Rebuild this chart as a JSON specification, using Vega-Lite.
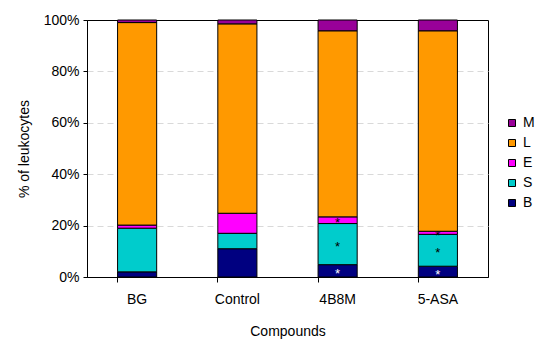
{
  "$schema": "https://vega.github.io/schema/vega-lite/v6.json",
  "width": 401,
  "height": 257,
  "autosize": {"type": "none"},
  "padding": {"left": 87, "top": 20, "right": 62, "bottom": 77},
  "background": "white",
  "config": {
    "font": "Liberation Sans",
    "view": {"stroke": "black", "strokeWidth": 1},
    "axis": {"labelFont": "Liberation Sans", "titleFont": "Liberation Sans", "labelFontSize": 14, "titleFontSize": 14, "titleFontWeight": "normal", "labelColor": "black", "titleColor": "black", "domainColor": "black", "tickColor": "black"},
    "legend": {"labelFont": "Liberation Sans", "labelFontSize": 14, "labelColor": "black"}
  },
  "data": {
    "values": [
      {"compound": "BG", "cell": "B", "value": 2, "sig": "", "order": 1},
      {"compound": "BG", "cell": "S", "value": 17, "sig": "", "order": 2},
      {"compound": "BG", "cell": "E", "value": 1.2, "sig": "", "order": 3},
      {"compound": "BG", "cell": "L", "value": 78.8, "sig": "", "order": 4},
      {"compound": "BG", "cell": "M", "value": 1, "sig": "", "order": 5},
      {"compound": "Control", "cell": "B", "value": 11, "sig": "", "order": 1},
      {"compound": "Control", "cell": "S", "value": 6, "sig": "", "order": 2},
      {"compound": "Control", "cell": "E", "value": 7.8, "sig": "", "order": 3},
      {"compound": "Control", "cell": "L", "value": 73.7, "sig": "", "order": 4},
      {"compound": "Control", "cell": "M", "value": 1.5, "sig": "", "order": 5},
      {"compound": "4B8M", "cell": "B", "value": 4.8, "sig": "*", "order": 1},
      {"compound": "4B8M", "cell": "S", "value": 16, "sig": "*", "order": 2},
      {"compound": "4B8M", "cell": "E", "value": 2.6, "sig": "*", "order": 3},
      {"compound": "4B8M", "cell": "L", "value": 72.4, "sig": "", "order": 4},
      {"compound": "4B8M", "cell": "M", "value": 4.2, "sig": "", "order": 5},
      {"compound": "5-ASA", "cell": "B", "value": 4.2, "sig": "*", "order": 1},
      {"compound": "5-ASA", "cell": "S", "value": 12.4, "sig": "*", "order": 2},
      {"compound": "5-ASA", "cell": "E", "value": 1.2, "sig": "*", "order": 3},
      {"compound": "5-ASA", "cell": "L", "value": 78, "sig": "", "order": 4},
      {"compound": "5-ASA", "cell": "M", "value": 4.2, "sig": "", "order": 5}
    ]
  },
  "transform": [
    {"stack": "value", "groupby": ["compound"], "sort": [{"field": "order"}], "as": ["v0", "v1"]},
    {"calculate": "(datum.v0 + datum.v1) / 2", "as": "mid"}
  ],
  "encoding": {
    "x": {
      "field": "compound", "type": "nominal",
      "sort": ["BG", "Control", "4B8M", "5-ASA"],
      "scale": {"paddingInner": 0.61, "paddingOuter": 0.305},
      "axis": {"title": "Compounds", "labelAngle": 0, "labelPadding": 10, "titlePadding": 18, "bandPosition": 0, "tickSize": 5, "domainColor": "black", "grid": false}
    }
  },
  "layer": [
    {
      "mark": {"type": "bar", "stroke": "black", "strokeWidth": 1},
      "encoding": {
        "y": {
          "field": "v0", "type": "quantitative",
          "scale": {"domain": [0, 100], "nice": false},
          "axis": {"title": "% of leukocytes", "values": [0, 20, 40, 60, 80, 100], "labelExpr": "datum.value + '%'", "tickSize": 4, "labelPadding": 4, "titlePadding": 12, "grid": true, "gridColor": "#d9d9d9", "gridDash": [6, 4], "gridOpacity": {"condition": {"test": "datum.value === 100 || datum.value === 0", "value": 0}, "value": 1}, "domainColor": "black"}
        },
        "y2": {"field": "v1"},
        "color": {
          "field": "cell", "type": "nominal",
          "scale": {"domain": ["M", "L", "E", "S", "B"], "range": ["#990099", "#FF9900", "#FF00FF", "#00CCCC", "#000080"]},
          "legend": {"title": null, "orient": "none", "legendX": 418, "legendY": 96, "symbolType": "square", "symbolSize": 49, "symbolStrokeColor": "black", "symbolStrokeWidth": 1, "rowPadding": 6, "labelOffset": 4}
        }
      }
    },
    {
      "mark": {"type": "text", "fontSize": 13, "baseline": "middle", "dy": 3},
      "encoding": {
        "y": {"field": "mid", "type": "quantitative"},
        "text": {"field": "sig"},
        "color": {
          "condition": {"test": "datum.cell === 'B'", "value": "white"},
          "value": "black"
        }
      }
    }
  ]
}
